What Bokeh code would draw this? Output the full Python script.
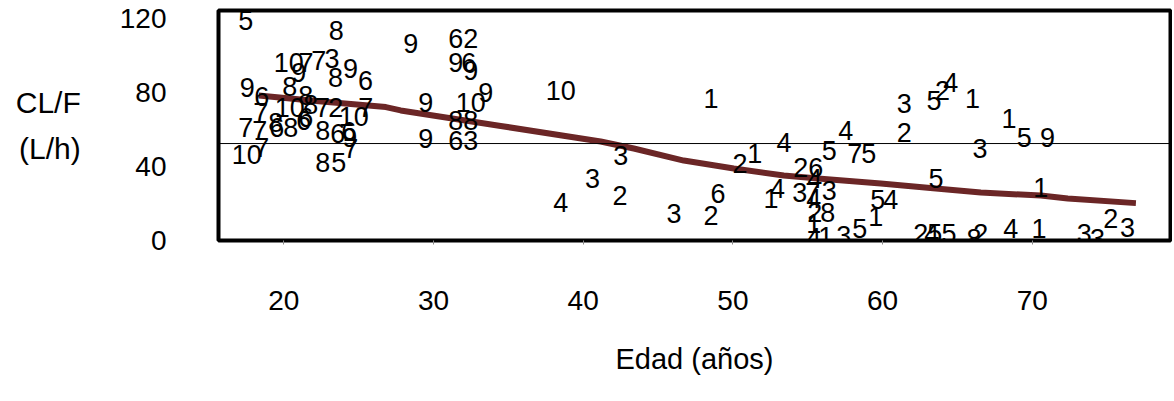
from bokeh.plotting import figure
from bokeh.models import Range1d, FixedTicker, Span, ColumnDataSource
from bokeh.embed import file_html
from bokeh.resources import INLINE

# ---- data ----
ages = [17.46, 23.51, 28.49, 20.33, 21.00, 21.49, 22.34, 23.23, 23.45, 24.46,
        25.46, 20.40, 17.56, 18.53, 21.47, 25.48, 18.46, 20.40, 21.47, 22.58,
        23.47, 24.67, 17.46, 18.40, 19.46, 19.53, 20.47, 21.34, 22.60, 23.61,
        24.34, 24.41, 24.48, 17.53, 18.53, 22.60, 23.68, 21.80,
        29.49, 29.49, 31.49, 32.49, 31.49, 32.36, 32.49, 33.50, 32.49, 31.49,
        32.49, 31.49, 32.49, 38.50, 38.50, 40.62, 42.51, 42.46,
        48.53, 46.07, 48.53, 49.01, 50.48, 51.46, 53.42, 52.98, 52.54, 54.53,
        55.54, 56.43, 57.54, 58.14, 59.08, 55.47, 54.47, 55.33, 56.43, 55.40,
        55.47, 56.34, 55.40, 55.40, 56.20, 57.41, 58.47, 59.55, 59.67, 60.55,
        61.44, 63.44, 64.00, 64.55, 66.00, 61.44, 68.45, 69.46, 71.02, 66.51,
        63.56, 70.57, 62.55, 63.28, 63.49, 64.44, 66.11, 66.56, 68.56, 70.45,
        73.47, 74.35, 75.24, 76.36]
clearance = [118.9, 113.5, 106.5, 96.2, 91.0, 96.4, 97.3, 98.2, 88.3, 92.8,
             86.5, 83.2, 82.9, 77.8, 78.4, 72.1, 69.4, 71.9, 66.6, 72.1,
             72.1, 67.0, 61.1, 59.5, 63.8, 61.1, 61.1, 64.9, 59.5, 57.8,
             58.9, 55.7, 49.7, 46.5, 50.3, 42.2, 42.2, 73.5,
             74.8, 55.0, 109.0, 109.0, 96.4, 96.4, 91.9, 80.2, 74.8, 64.9,
             64.9, 54.1, 54.1, 81.1, 20.7, 33.4, 45.9, 24.3,
             76.6, 14.4, 13.5, 25.2, 41.5, 46.9, 53.1, 27.9, 22.5, 39.6,
             39.6, 48.6, 59.5, 46.9, 46.9, 33.5, 25.9, 25.9, 27.0, 22.7,
             15.3, 15.3, 9.0, 1.6, 2.2, 2.7, 6.5, 13.0, 22.2, 22.2,
             73.9, 75.7, 81.1, 85.6, 76.6, 58.5, 65.8, 55.8, 55.8, 49.6,
             33.4, 28.8, 3.6, 3.6, 3.6, 3.6, 0.9, 3.6, 6.3, 6.3,
             3.6, 0.9, 11.7, 7.2]
labels = ["5", "8", "9", "10", "9", "7", "7", "3", "8", "9",
          "6", "8", "9", "6", "8", "7", "7", "10", "6", "7",
          "2", "10", "7", "7", "8", "6", "8", "6", "8", "6",
          "6", "9", "7", "10", "7", "8", "5", "8",
          "9", "9", "6", "2", "9", "6", "9", "9", "10", "8",
          "8", "6", "3", "10", "4", "3", "3", "2",
          "1", "3", "2", "6", "2", "1", "4", "4", "1", "2",
          "6", "5", "4", "7", "5", "4", "3", "7", "3", "4",
          "2", "8", "1", "4", "1", "3", "5", "1", "5", "4",
          "3", "5", "2", "4", "1", "2", "1", "5", "9", "3",
          "5", "1", "2", "4", "5", "5", "8", "2", "4", "1",
          "3", "3", "2", "3"]

curve_age = [18.33, 22.34, 26.82, 27.81, 34.49, 41.17, 43.38, 46.72, 50.06,
             53.40, 55.68, 59.88, 63.56, 66.56, 70.57, 72.37, 76.92]
curve_cl = [78.4, 75.2, 72.1, 70.3, 61.9, 53.5, 49.7, 43.2, 38.9,
            35.1, 33.5, 30.8, 28.1, 25.9, 24.3, 22.7, 20.2]

reference_cl = 52.4
x_ticks = [20, 30, 40, 50, 60, 70]
y_ticks = [0, 40, 80, 120]

FONT = "Liberation Sans"

p = figure(frame_width=952, frame_height=230,
           min_border_left=218, min_border_right=2,
           min_border_top=10, min_border_bottom=160,
           x_range=Range1d(15.64, 79.23), y_range=Range1d(0, 124.3),
           output_backend="svg", toolbar_location=None)

p.background_fill_color = "white"
p.border_fill_color = "white"
p.outline_line_color = "black"
p.outline_line_width = 4
p.xgrid.visible = False
p.ygrid.visible = False

p.line(curve_age, curve_cl, line_width=6, line_color="#6b2626")
p.add_layout(Span(location=reference_cl, dimension="width",
                  line_color="black", line_width=1))

src = ColumnDataSource(dict(x=ages, y=clearance, t=labels))
p.text(x="x", y="y", text="t", source=src, text_align="center",
       text_baseline="middle", text_font_size="27px",
       text_font={"value": FONT}, text_color="black")

xa = p.xaxis[0]
xa.ticker = FixedTicker(ticks=x_ticks)
xa.minor_tick_line_color = None
xa.major_tick_out = 4
xa.major_tick_in = 0
xa.major_tick_line_color = "#888888"
xa.axis_line_color = None
xa.major_label_standoff = 46
xa.major_label_text_font = FONT
xa.major_label_text_font_size = "28px"
xa.major_label_text_color = "black"
xa.axis_label = "Edad (años)"
xa.axis_label_text_font = FONT
xa.axis_label_text_font_size = "29px"
xa.axis_label_text_font_style = "normal"
xa.axis_label_text_color = "black"
xa.axis_label_standoff = 30

ya = p.yaxis[0]
ya.ticker = FixedTicker(ticks=y_ticks)
ya.minor_tick_line_color = None
ya.major_tick_out = 0
ya.major_tick_in = 0
ya.axis_line_color = None
ya.major_label_standoff = 52
ya.major_label_text_font = FONT
ya.major_label_text_font_size = "28px"
ya.major_label_text_color = "black"
ya.axis_label = "CL/F\n(L/h)"
ya.axis_label_orientation = "horizontal"
ya.axis_label_text_font = FONT
ya.axis_label_text_font_size = "30px"
ya.axis_label_text_font_style = "normal"
ya.axis_label_text_color = "black"
ya.axis_label_text_line_height = 1.4
ya.axis_label_standoff = 36

open("out.html", "w").write(file_html(p, INLINE))
